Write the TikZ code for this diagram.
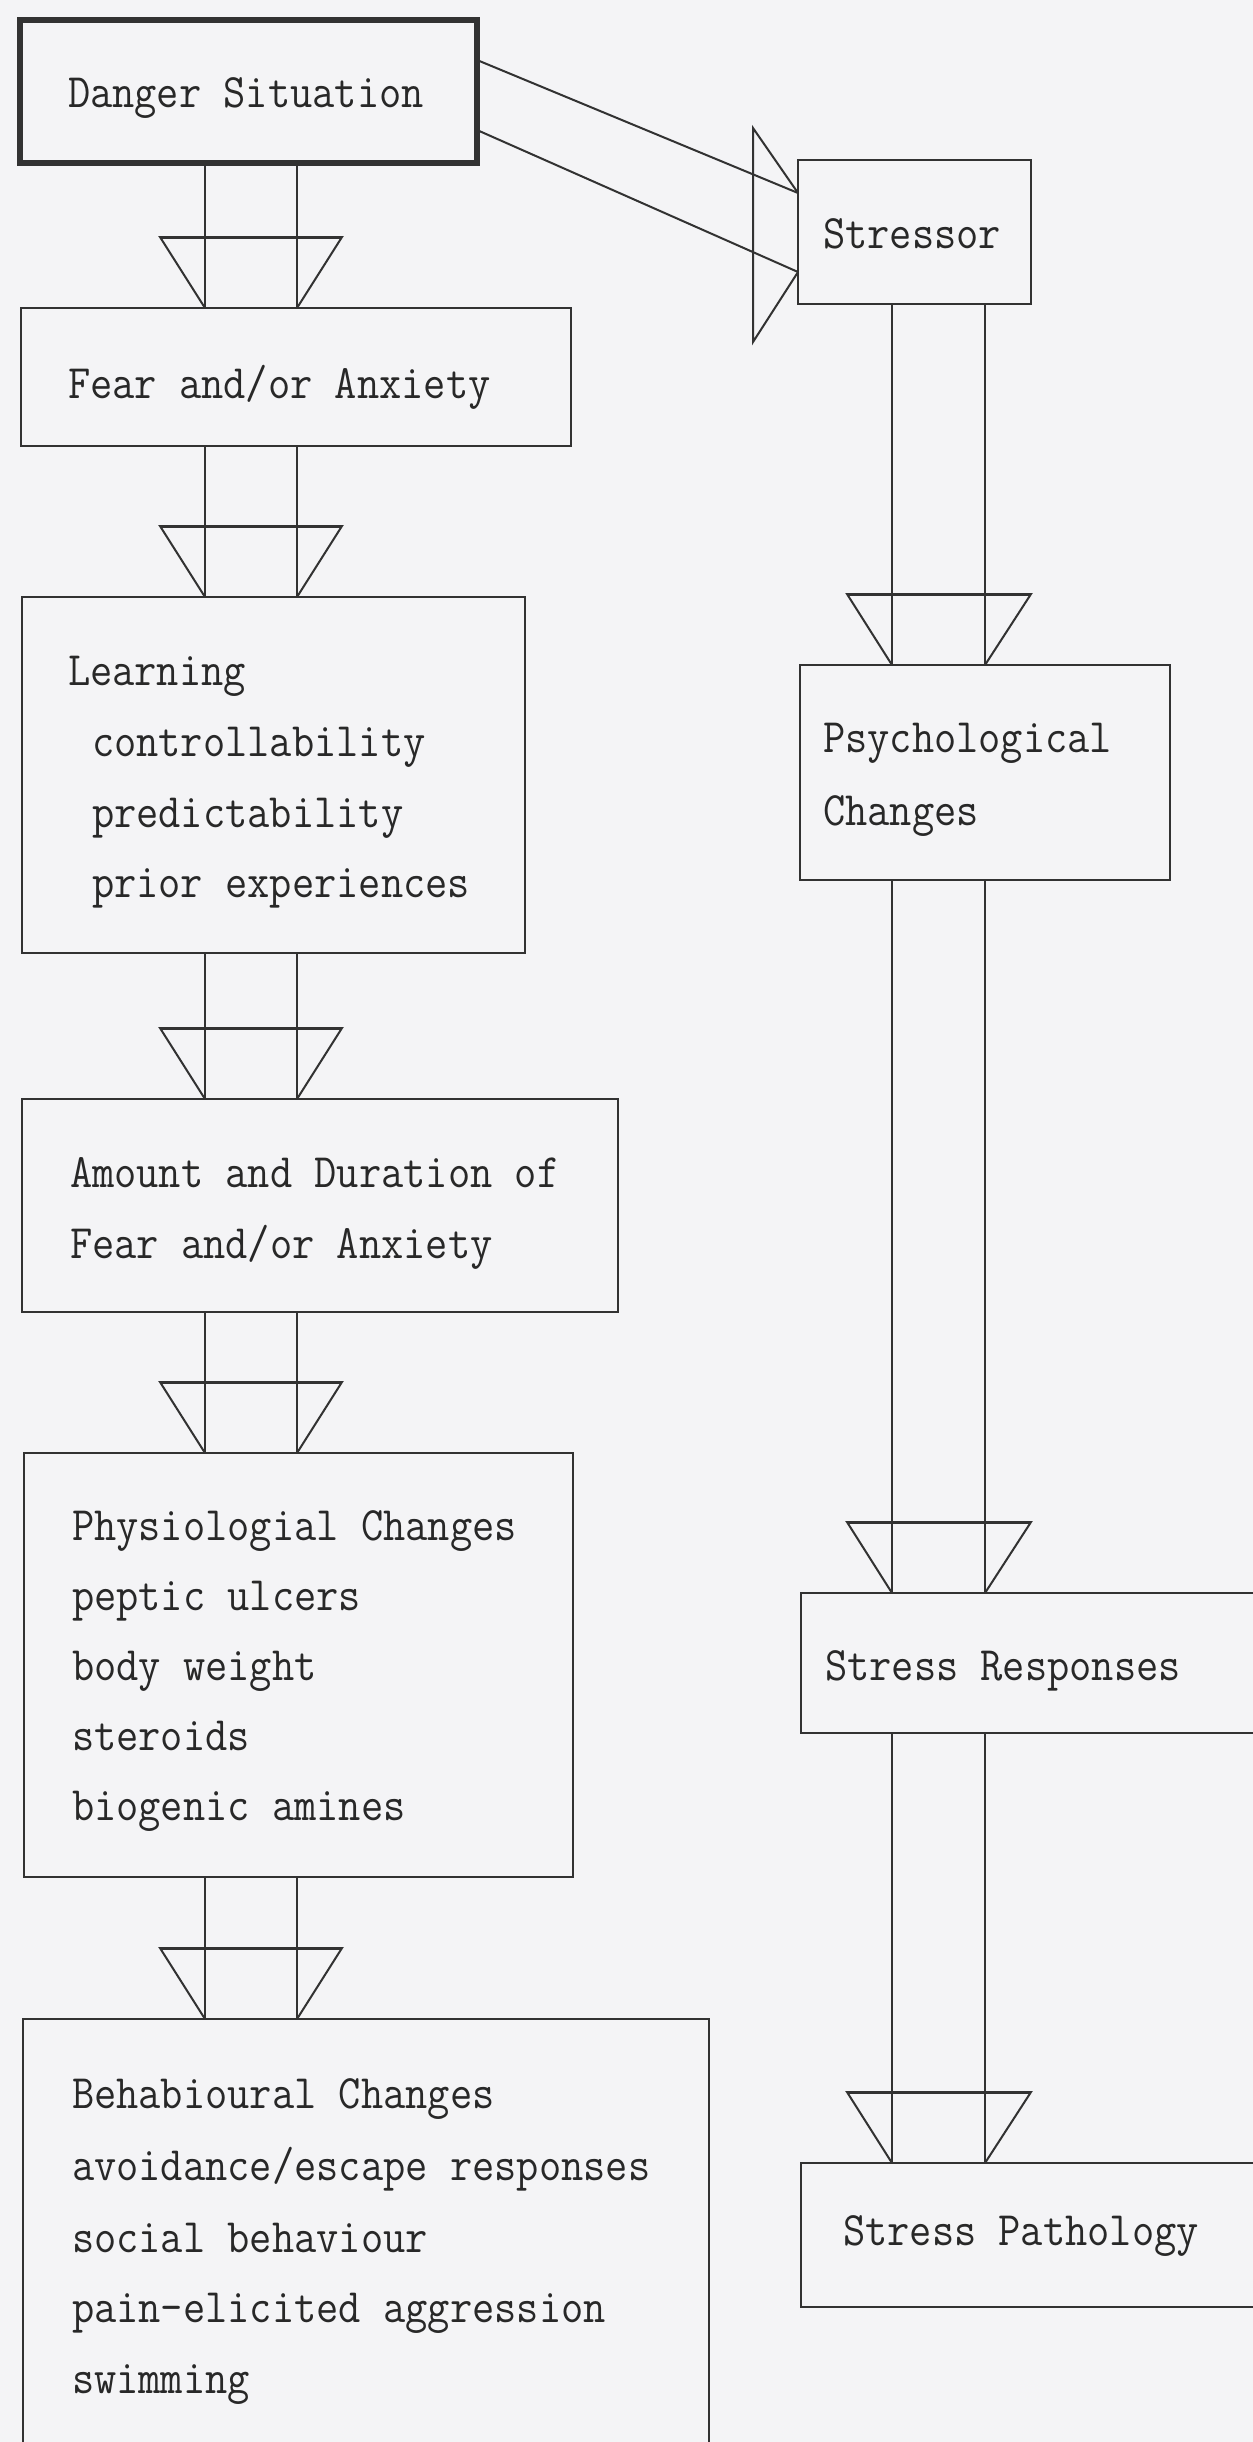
\documentclass[tikz,border=0pt]{standalone}
\usepackage{fontspec}
\setmonofont{Latin Modern Mono}[FakeStretch=0.9]
\usetikzlibrary{calc}
\definecolor{bgc}{RGB}{244,244,246}
\definecolor{ink}{RGB}{50,50,50}
\definecolor{txt}{RGB}{40,40,40}
\tikzset{
  box/.style={draw=ink, line width=2.4pt, rectangle, inner sep=0pt, outer sep=0pt, anchor=north west},
  lbl/.style={anchor=base west, inner sep=0pt, outer sep=0pt, text=txt, font=\ttfamily\fontsize{48}{58}\selectfont},
  conn/.style={draw=ink, line width=2pt},
  head/.style={draw=ink, line width=2pt, line join=miter},
  headtop/.style={draw=ink, line width=3pt},
}
\newcommand{\dtrapL}[1]{\draw[head] (#1.north -| la) -- ++(-45,-71) -- ++(182,0) -- (#1.north -| lb);
  \draw[headtop] ($(#1.north -| la)+(-45,-71)$) -- ++(182,0);}
\newcommand{\dtrapR}[1]{\draw[head] (#1.north -| ra) -- ++(-45,-71) -- ++(184,0) -- (#1.north -| rb);
  \draw[headtop] ($(#1.north -| ra)+(-45,-71)$) -- ++(184,0);}
\begin{document}
\begin{tikzpicture}[x=1pt,y=-1pt]
\useasboundingbox (0,0) rectangle (1253,2442);
\fill[bgc] (0,0) rectangle (1253,2442);
\clip (0,0) rectangle (1253,2442);

% column coordinates
\coordinate (la) at (205,0);
\coordinate (lb) at (297,0);
\coordinate (ra) at (892,0);
\coordinate (rb) at (985,0);

% left column boxes
\node[box, line width=5.5pt, minimum width=457pt, minimum height=143pt] (danger) at (20,20) {};
\node[box, minimum width=550pt, minimum height=138pt] (fear) at (21,308) {};
\node[box, minimum width=503pt, minimum height=356pt] (learning) at (22,597) {};
\node[box, minimum width=596pt, minimum height=213pt] (amount) at (22,1099) {};
\node[box, minimum width=549pt, minimum height=424pt] (physio) at (24,1453) {};
\node[box, minimum width=686pt, minimum height=520pt] (behav) at (23,2019) {};

% right column boxes
\node[box, minimum width=233pt, minimum height=144pt] (stressor) at (798,160) {};
\node[box, minimum width=370pt, minimum height=215pt] (psych) at (800,665) {};
\node[box, minimum width=520pt, minimum height=140pt] (sresp) at (801,1593) {};
\node[box, minimum width=520pt, minimum height=144pt] (spath) at (801,2163) {};

% left column connectors
\draw[conn] (danger.south -| la) -- (fear.north -| la);
\draw[conn] (danger.south -| lb) -- (fear.north -| lb);
\dtrapL{fear}
\draw[conn] (fear.south -| la) -- (learning.north -| la);
\draw[conn] (fear.south -| lb) -- (learning.north -| lb);
\dtrapL{learning}
\draw[conn] (learning.south -| la) -- (amount.north -| la);
\draw[conn] (learning.south -| lb) -- (amount.north -| lb);
\dtrapL{amount}
\draw[conn] (amount.south -| la) -- (physio.north -| la);
\draw[conn] (amount.south -| lb) -- (physio.north -| lb);
\dtrapL{physio}
\draw[conn] (physio.south -| la) -- (behav.north -| la);
\draw[conn] (physio.south -| lb) -- (behav.north -| lb);
\dtrapL{behav}

% danger -> stressor
\draw[conn] ($(danger.north east)+(0,40)$) -- ($(stressor.north west)+(0,33)$);
\draw[conn] ($(danger.north east)+(0,110)$) -- ($(stressor.north west)+(0,112)$);
\draw[head] ($(stressor.north west)+(0,33)$) -- ++(-45,-65) -- ++(0,214) -- ($(stressor.north west)+(0,112)$);

% right column connectors
\draw[conn] (stressor.south -| ra) -- (psych.north -| ra);
\draw[conn] (stressor.south -| rb) -- (psych.north -| rb);
\dtrapR{psych}
\draw[conn] (psych.south -| ra) -- (sresp.north -| ra);
\draw[conn] (psych.south -| rb) -- (sresp.north -| rb);
\dtrapR{sresp}
\draw[conn] (sresp.south -| ra) -- (spath.north -| ra);
\draw[conn] (sresp.south -| rb) -- (spath.north -| rb);
\dtrapR{spath}

% texts
\node[lbl] (t1) at (68,107) {Danger Situation};
\node[lbl] (t2) at (68,398) {Fear and/or Anxiety};
\node[lbl] (t3a) at (68,685) {Learning};
\node[lbl] (t3b) at (92,756) {controllability};
\node[lbl] (t3c) at (92,827) {predictability};
\node[lbl] (t3d) at (92,897) {prior experiences};
\node[lbl] (t4a) at (70,1187) {Amount and Duration of};
\node[lbl] (t4b) at (70,1258) {Fear and/or Anxiety};
\node[lbl] (t5a) at (72,1540) {Physiologial Changes};
\node[lbl] (t5b) at (72,1610) {peptic ulcers};
\node[lbl] (t5c) at (72,1680) {body weight};
\node[lbl] (t5d) at (72,1750) {steroids};
\node[lbl] (t5e) at (72,1820) {biogenic amines};
\node[lbl] (t6a) at (72,2108) {Behabioural Changes};
\node[lbl] (t6b) at (72,2180) {avoidance/escape responses};
\node[lbl] (t6c) at (72,2252) {social behaviour};
\node[lbl] (t6d) at (72,2322) {pain-elicited aggression};
\node[lbl] (t6e) at (72,2393) {swimming};
\node[lbl] (r1) at (823,248) {Stressor};
\node[lbl] (r2a) at (823,752) {Psychological};
\node[lbl] (r2b) at (823,825) {Changes};
\node[lbl] (r3) at (825,1680) {Stress Responses};
\node[lbl] (r4) at (843,2245) {Stress Pathology};
\end{tikzpicture}
\end{document}
